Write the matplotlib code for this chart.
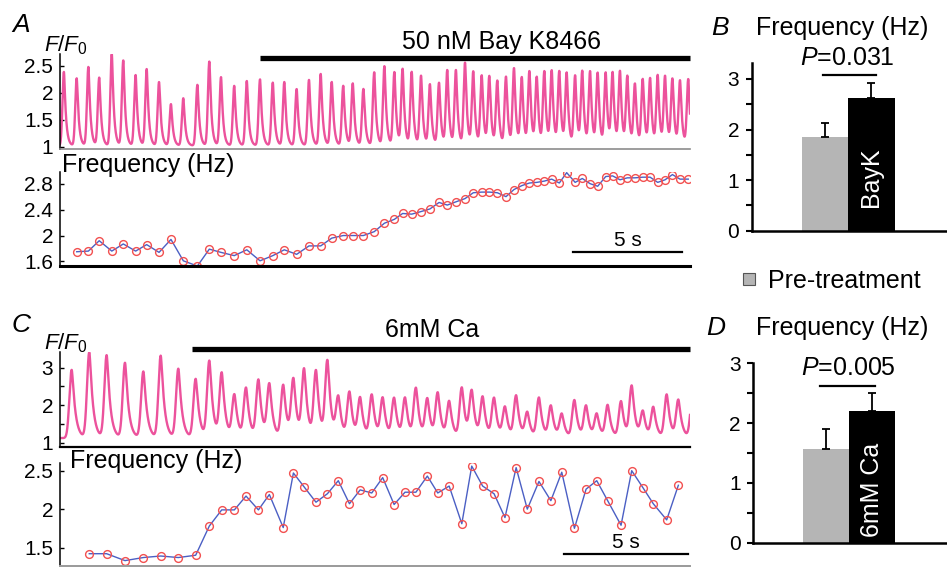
import numpy as np
import matplotlib

matplotlib.use("Agg")
import matplotlib.pyplot as plt
from matplotlib.patches import Rectangle
from matplotlib.ticker import FormatStrFormatter

plt.rcParams["font.family"] = ["Liberation Sans", "DejaVu Sans"]
plt.rcParams["mathtext.fontset"] = "custom"
plt.rcParams["mathtext.rm"] = "Liberation Sans"
plt.rcParams["mathtext.it"] = "Liberation Sans:italic"

W, H = 947, 567
PINK = "#ec529c"
GREY = "#b5b5b5"

# Bay K8466 recording: transient peak times (s), peak F/F0 and beat frequency (Hz)
bayk_peak_t = [0.18, 0.77, 1.31, 1.81, 2.39, 2.92, 3.49, 4.00, 4.57, 5.12, 5.69, 6.34,
               6.89, 7.43, 8.04, 8.62, 9.23, 9.82, 10.35, 10.92, 11.49, 12.03, 12.54, 13.07,
               13.51, 14.00, 14.50, 14.97, 15.43, 15.81, 16.23, 16.66, 17.07, 17.49, 17.87, 18.27,
               18.69, 19.07, 19.46, 19.81, 20.18, 20.58, 20.95, 21.31, 21.66, 22.00, 22.35, 22.69,
               23.04, 23.38, 23.77, 24.10, 24.46, 24.81, 25.18, 25.50, 25.84, 26.18, 26.53, 26.89,
               27.23, 27.58, 27.92, 28.26, 28.61, 28.99]
bayk_peak_f = [2.39, 2.27, 2.48, 2.28, 2.72, 2.60, 2.33, 2.44, 2.20, 1.79, 1.90, 2.15,
               2.58, 2.29, 2.13, 2.22, 2.25, 2.19, 2.20, 2.07, 2.24, 2.35, 2.20, 2.13,
               2.17, 2.07, 2.38, 2.49, 2.38, 2.43, 2.38, 2.31, 2.15, 2.18, 2.41, 2.41,
               2.55, 2.38, 2.31, 2.29, 2.21, 2.29, 2.44, 2.27, 2.38, 2.27, 2.38, 2.39,
               2.38, 2.35, 2.31, 2.38, 2.38, 2.35, 2.36, 2.35, 2.38, 2.29, 2.15, 2.24,
               2.25, 2.31, 2.29, 2.24, 2.21, 2.24]
bayk_freq = [1.75, 1.76, 1.92, 1.76, 1.87, 1.76, 1.86, 1.74, 1.94, 1.61, 1.53, 1.79,
             1.74, 1.69, 1.78, 1.61, 1.69, 1.78, 1.71, 1.84, 1.84, 1.96, 2.00,
             2.00, 2.00, 2.06, 2.19, 2.25, 2.34, 2.33, 2.37, 2.41, 2.51, 2.47, 2.52,
             2.57, 2.66, 2.67, 2.67, 2.66, 2.60, 2.71, 2.77, 2.81, 2.82, 2.84, 2.87,
             2.81, 2.97, 2.82, 2.88, 2.80, 2.76, 2.91, 2.92, 2.86, 2.89, 2.89, 2.90,
             2.90, 2.82, 2.86, 2.94, 2.87, 2.87]
bayk_drug_on = 9.23

# 6 mM Ca recording
ca_peak_t = [0.47, 1.18, 1.88, 2.62, 3.36, 4.06, 4.77, 5.47, 6.02, 6.52, 7.03, 7.50,
             8.00, 8.44, 9.00, 9.41, 9.84, 10.32, 10.78, 11.22, 11.67, 12.10, 12.57, 13.01,
             13.47, 13.91, 14.35, 14.81, 15.23, 15.69, 16.20, 16.60, 17.04, 17.50, 17.94, 18.39,
             18.84, 19.31, 19.79, 20.23, 20.74, 21.21, 21.64, 22.08, 22.62, 23.05, 23.50, 23.92,
             24.46, 24.93, 25.50]
ca_peak_f = [2.94, 3.40, 3.32, 3.12, 2.89, 3.31, 2.96, 2.69, 3.16, 2.82, 2.25, 2.43,
             2.65, 2.52, 2.52, 2.65, 2.91, 2.88, 3.14, 2.17, 2.32, 2.16, 2.25, 2.16,
             2.16, 2.16, 2.42, 2.14, 2.29, 2.07, 2.45, 2.33, 2.18, 2.16, 1.92, 2.23,
             1.78, 2.18, 1.96, 1.74, 2.12, 1.96, 1.74, 1.98, 2.09, 2.48, 1.80, 1.92,
             2.27, 2.11, 2.20]
ca_freq = [1.42, 1.42, 1.33, 1.37, 1.39, 1.37, 1.40, 1.78, 1.99, 1.99, 2.17, 1.99,
           2.19, 1.76, 2.47, 2.29, 2.09, 2.20, 2.37, 2.07, 2.25, 2.21, 2.41, 2.06,
           2.22, 2.22, 2.43, 2.21, 2.30, 1.81, 2.56, 2.30, 2.20, 1.89, 2.54, 2.00,
           2.36, 2.11, 2.48, 1.75, 2.26, 2.37, 2.11, 1.79, 2.50, 2.28, 2.07, 1.86, 2.31]
ca_drug_on = 5.33

# summary bars: mean frequency and SEM
bar_groups = ["Pre-treatment", "Treated"]
bayk_mean = [1.86, 2.63]
bayk_sem = [0.26, 0.30]
bayk_p = "0.031"
ca_mean = [1.56, 2.20]
ca_sem = [0.34, 0.30]
ca_p = "0.005"


def px_axes(fig, left, top, right, bottom):
    return fig.add_axes([left / W, 1 - bottom / H, (right - left) / W, (bottom - top) / H])


def fig_text(fig, x, y, s, **kw):
    fig.text(x / W, 1 - y / H, s, **kw)


def transient_trace(t, peaks, heights, base, rise, decay):
    # each Ca transient: gaussian upstroke, rounded top, exponential decay, summed on a baseline
    out = np.full_like(t, base)
    for tp, hp in zip(peaks, heights):
        dt = t - tp
        fall = np.exp(-(np.sqrt(dt ** 2 + (0.25 * decay) ** 2) - 0.25 * decay) / decay)
        shape = np.where(dt < 0, np.exp(-0.5 * (dt / rise) ** 2), fall)
        out += (hp - base) * shape
    return out


def style_trace_axis(ax, bottom_color, bottom_width):
    for side in ("top", "right"):
        ax.spines[side].set_visible(False)
    ax.spines["left"].set_linewidth(1.1)
    ax.spines["bottom"].set_color(bottom_color)
    ax.spines["bottom"].set_linewidth(bottom_width)
    ax.set_xticks([])
    ax.tick_params(axis="y", direction="in", length=3, width=1, labelsize=15, pad=5)
    ax.tick_params(axis="y", which="minor", direction="in", length=3, width=1)
    ax.yaxis.set_major_formatter(FormatStrFormatter("%g"))
    ax.patch.set_alpha(0)


def freq_plot(ax, peak_t, freq):
    ax.plot(peak_t[1:len(freq) + 1], freq, color="#4b5fc4", linewidth=1.0,
            marker="o", markersize=5.6, markerfacecolor="none",
            markeredgecolor="#f25050", markeredgewidth=1.0)


def bar_panel(ax, means, sems, ymax, inner_label, p_text, sig_y, p_y, sig_x):
    ax.bar([0, 1], means, width=1.0, color=[GREY, "black"])
    ax.errorbar([0, 1], means, yerr=[[0, 0], sems], fmt="none", ecolor="black",
                elinewidth=1.3, capsize=3, capthick=1.3)
    ax.text(1, means[1] * 0.4, inner_label, rotation=90, color="white", fontsize=18,
            ha="center", va="center")
    ax.plot(sig_x, [sig_y, sig_y], color="black", linewidth=1.6, clip_on=False)
    ax.text(0.48, p_y, r"$P$=" + p_text, ha="center", va="center", fontsize=18, clip_on=False)
    ax.set_ylim(0, ymax)
    ax.set_yticks([0, 1, 2, 3])
    ax.set_yticks([0.5, 1.5, 2.5], minor=True)
    ax.set_xticks([])
    for side in ("top", "right"):
        ax.spines[side].set_visible(False)
    ax.spines["left"].set_linewidth(1.8)
    ax.spines["bottom"].set_linewidth(1.8)
    ax.tick_params(axis="y", direction="out", length=4, width=1.5, labelsize=15, pad=5)
    ax.tick_params(axis="y", which="minor", direction="out", length=4, width=1.5)
    ax.patch.set_alpha(0)


fig = plt.figure(figsize=(W / 100, H / 100), dpi=100)

# ---- A: Bay K8466 trace and beat frequency ----
a_end = 29.07
t_a = np.linspace(0, a_end, 6000)
ax_a = px_axes(fig, 60, 53.6, 690, 149)
ax_a.plot(t_a, transient_trace(t_a, bayk_peak_t, bayk_peak_f, 1.02, 0.065, 0.085),
          color=PINK, linewidth=1.7)
ax_a.set_xlim(0, a_end)
ax_a.set_ylim(0.96, 2.73)
ax_a.set_yticks([1, 1.5, 2, 2.5])
style_trace_axis(ax_a, "#8c8c8c", 1.2)
ax_a.plot([bayk_drug_on, a_end], [2.65, 2.65], color="black", linewidth=3.8,
          solid_capstyle="butt", clip_on=False)
ax_a.text(20.38, 2.95, "50 nM Bay K8466", ha="center", va="center", fontsize=18, clip_on=False)

ax_af = px_axes(fig, 60, 172, 690, 266)
freq_plot(ax_af, bayk_peak_t, bayk_freq)
ax_af.set_xlim(0, a_end)
ax_af.set_ylim(1.53, 2.98)
ax_af.set_yticks([1.6, 2.0, 2.4, 2.8])
style_trace_axis(ax_af, "black", 2.2)
ax_af.plot([23.69, 28.69], [1.75, 1.75], color="black", linewidth=1.6)
ax_af.text(26.19, 1.93, "5 s", ha="center", va="center", fontsize=15)

# ---- C: 6 mM Ca trace and beat frequency ----
c_end = 25.40
t_c = np.linspace(0, c_end, 6000)
ax_c = px_axes(fig, 60, 351.9, 690, 446.7)
ax_c.plot(t_c, transient_trace(t_c, ca_peak_t, ca_peak_f, 1.12, 0.09, 0.13),
          color=PINK, linewidth=1.7)
ax_c.set_xlim(0, c_end)
ax_c.set_ylim(0.89, 3.42)
ax_c.set_yticks([1, 2, 3])
ax_c.set_yticks([1.5, 2.5], minor=True)
style_trace_axis(ax_c, "black", 1.6)
ax_c.plot([ca_drug_on, c_end], [3.49, 3.49], color="black", linewidth=3.8,
          solid_capstyle="butt", clip_on=False)
ax_c.text(14.99, 4.0, "6mM Ca", ha="center", va="center", fontsize=18, clip_on=False)

ax_cf = px_axes(fig, 60, 463, 690, 566)
freq_plot(ax_cf, ca_peak_t, ca_freq)
ax_cf.set_xlim(0, c_end)
ax_cf.set_ylim(1.26, 2.60)
ax_cf.set_yticks([1.5, 2.0, 2.5])
style_trace_axis(ax_cf, "#9a9a9a", 1.4)
ax_cf.plot([20.33, 25.33], [1.41, 1.41], color="black", linewidth=1.6)
ax_cf.text(22.83, 1.57, "5 s", ha="center", va="center", fontsize=15)

# ---- B and D: summary bars ----
ax_b = px_axes(fig, 751.7, 63.3, 946.7, 230.7)
ax_b.set_xlim(-1.575, 2.618)
bar_panel(ax_b, bayk_mean, bayk_sem, 3.31, "BayK", bayk_p, 3.08, 3.41, [-0.05, 1.10])

ax_d = px_axes(fig, 753.3, 363.3, 947, 542.7)
ax_d.set_xlim(-1.567, 2.617)
bar_panel(ax_d, ca_mean, ca_sem, 3.0, "6mM Ca", ca_p, 2.62, 2.92, [-0.13, 1.06])

# panel letters, axis captions, legend
for letter, x, y in [("A", 21, 25), ("B", 720, 28), ("C", 21, 325), ("D", 716, 328)]:
    fig_text(fig, x, y, letter, fontsize=19, style="italic", ha="center", va="center")
fig_text(fig, 44, 45, r"$F/F_{\mathrm{0}}$", fontsize=16, ha="left", va="center")
fig_text(fig, 44, 343, r"$F/F_{\mathrm{0}}$", fontsize=16, ha="left", va="center")
fig_text(fig, 62, 165, "Frequency (Hz)", fontsize=18, ha="left", va="center")
fig_text(fig, 70, 461, "Frequency (Hz)", fontsize=18, ha="left", va="center")
fig_text(fig, 842, 28, "Frequency (Hz)", fontsize=18, ha="center", va="center")
fig_text(fig, 842, 328, "Frequency (Hz)", fontsize=18, ha="center", va="center")

fig.add_artist(Rectangle((743 / W, 1 - 285 / H), 12 / W, 12 / H, facecolor=GREY,
                         edgecolor="#555555", linewidth=0.8, transform=fig.transFigure))
fig_text(fig, 768, 281, bar_groups[0], fontsize=18, ha="left", va="center")

fig.savefig("out.png", dpi=100)
